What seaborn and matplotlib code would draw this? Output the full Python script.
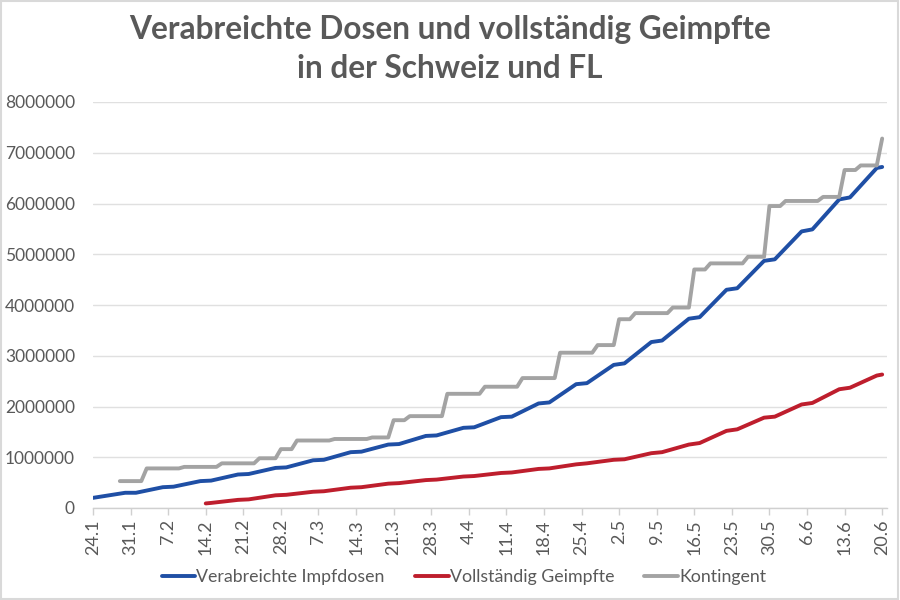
import pandas as pd
import numpy as np
import matplotlib
matplotlib.use("Agg")
import matplotlib.pyplot as plt
import seaborn as sns

# ---------------- data (values in millions) ----------------
dosen_dates = ["2021-01-24",
               "2021-01-30", "2021-02-01", "2021-02-06", "2021-02-08",
               "2021-02-13", "2021-02-15", "2021-02-20", "2021-02-22",
               "2021-02-27", "2021-03-01", "2021-03-06", "2021-03-08",
               "2021-03-13", "2021-03-15", "2021-03-20", "2021-03-22",
               "2021-03-27", "2021-03-29", "2021-04-03", "2021-04-05",
               "2021-04-10", "2021-04-12", "2021-04-17", "2021-04-19",
               "2021-04-24", "2021-04-26", "2021-05-01", "2021-05-03",
               "2021-05-08", "2021-05-10", "2021-05-15", "2021-05-17",
               "2021-05-22", "2021-05-24", "2021-05-29", "2021-05-31",
               "2021-06-05", "2021-06-07", "2021-06-12", "2021-06-14",
               "2021-06-19", "2021-06-20"]
dosen_mio = [0.20,
             0.30, 0.30, 0.41, 0.42,
             0.53, 0.54, 0.66, 0.67,
             0.79, 0.80, 0.94, 0.95,
             1.10, 1.11, 1.25, 1.26,
             1.42, 1.43, 1.58, 1.59,
             1.79, 1.80, 2.06, 2.08,
             2.44, 2.46, 2.82, 2.85,
             3.27, 3.30, 3.73, 3.76,
             4.30, 4.33, 4.87, 4.90,
             5.45, 5.49, 6.08, 6.12,
             6.70, 6.72]

geimpft_dates = ["2021-02-14", "2021-02-15",
                 "2021-02-20", "2021-02-22", "2021-02-27", "2021-03-01",
                 "2021-03-06", "2021-03-08", "2021-03-13", "2021-03-15",
                 "2021-03-20", "2021-03-22", "2021-03-27", "2021-03-29",
                 "2021-04-03", "2021-04-05", "2021-04-10", "2021-04-12",
                 "2021-04-17", "2021-04-19", "2021-04-24", "2021-04-26",
                 "2021-05-01", "2021-05-03", "2021-05-08", "2021-05-10",
                 "2021-05-15", "2021-05-17", "2021-05-22", "2021-05-24",
                 "2021-05-29", "2021-05-31", "2021-06-05", "2021-06-07",
                 "2021-06-12", "2021-06-14", "2021-06-19", "2021-06-20"]
geimpft_mio = [0.09, 0.10,
               0.16, 0.17, 0.25, 0.26,
               0.32, 0.33, 0.40, 0.41,
               0.48, 0.49, 0.55, 0.56,
               0.62, 0.63, 0.69, 0.70,
               0.77, 0.78, 0.86, 0.88,
               0.95, 0.96, 1.08, 1.10,
               1.25, 1.28, 1.52, 1.55,
               1.78, 1.80, 2.04, 2.07,
               2.34, 2.37, 2.61, 2.63]

# Kontingent: dates on which the level changes, and the new level
kontingent_change_dates = ["2021-01-29", "2021-02-03", "2021-02-10", "2021-02-17",
                           "2021-02-24", "2021-02-28", "2021-03-03", "2021-03-10",
                           "2021-03-17", "2021-03-21", "2021-03-24", "2021-03-31",
                           "2021-04-07", "2021-04-14", "2021-04-21", "2021-04-28",
                           "2021-05-02", "2021-05-05", "2021-05-12", "2021-05-16",
                           "2021-05-19", "2021-05-26", "2021-05-30", "2021-06-02",
                           "2021-06-09", "2021-06-13", "2021-06-16", "2021-06-20"]
kontingent_mio = [0.53, 0.78, 0.81, 0.88,
                  0.98, 1.16, 1.33, 1.36,
                  1.39, 1.73, 1.81, 2.25,
                  2.39, 2.56, 3.06, 3.21,
                  3.72, 3.84, 3.95, 4.70,
                  4.82, 4.95, 5.95, 6.05,
                  6.13, 6.66, 6.75, 7.28]

tick_labels = ["24.1", "31.1", "7.2", "14.2", "21.2", "28.2", "7.3", "14.3",
               "21.3", "28.3", "4.4", "11.4", "18.4", "25.4", "2.5", "9.5",
               "16.5", "23.5", "30.5", "6.6", "13.6", "20.6"]
y_ticks = [0, 1000000, 2000000, 3000000, 4000000, 5000000, 6000000, 7000000, 8000000]

series_names = ["Verabreichte Impfdosen", "Vollständig Geimpfte", "Kontingent"]
colors = ["#1F4FA5", "#BE1E2D", "#A3A3A3"]

# ---------------- build frames ----------------
df_dosen = pd.DataFrame({"Datum": pd.to_datetime(dosen_dates),
                         "Wert": np.array(dosen_mio) * 1e6})
df_geimpft = pd.DataFrame({"Datum": pd.to_datetime(geimpft_dates),
                           "Wert": np.array(geimpft_mio) * 1e6})
k = pd.Series(np.array(kontingent_mio) * 1e6, index=pd.to_datetime(kontingent_change_dates))
k_daily = k.reindex(pd.date_range(k.index[0], k.index[-1], freq="D")).ffill()
df_kont = pd.DataFrame({"Datum": k_daily.index, "Wert": k_daily.values})

# ---------------- plot ----------------
sns.set_theme(style="white")
plt.rcParams["font.family"] = ["Lato", "DejaVu Sans"]

fig = plt.figure(figsize=(9, 6), dpi=100)
ax = fig.add_axes([93 / 900, 1 - 508 / 600, (887 - 93) / 900, (508 - 102) / 600])

lw = 2.8
sns.lineplot(data=df_dosen, x="Datum", y="Wert", ax=ax, color=colors[0], lw=lw,
             label=series_names[0])
sns.lineplot(data=df_geimpft, x="Datum", y="Wert", ax=ax, color=colors[1], lw=lw,
             label=series_names[1])
sns.lineplot(data=df_kont, x="Datum", y="Wert", ax=ax, color=colors[2], lw=lw,
             label=series_names[2])

start = pd.Timestamp("2021-01-24")
tick_pos = [start + pd.Timedelta(days=7 * i) for i in range(len(tick_labels))]
ax.set_xlim(start, pd.Timestamp("2021-06-20") + pd.Timedelta(days=0.9))
ax.set_xticks(tick_pos)
ax.set_xticklabels(tick_labels, rotation=90, fontsize=13, color="#595959")
ax.set_ylim(0, 8000000)
ax.set_yticks(y_ticks)
ax.set_yticklabels([str(v) for v in y_ticks], fontsize=12.5, color="#595959")
ax.set_xlabel("")
ax.set_ylabel("")

ax.grid(axis="y", color="#E0E0E0", lw=1)
ax.grid(axis="x", visible=False)
for s in ["top", "right", "left"]:
    ax.spines[s].set_visible(False)
ax.spines["bottom"].set_color("#D0D0D0")
ax.spines["bottom"].set_linewidth(1)
ax.tick_params(axis="x", which="major", length=5, width=1, color="#D0D0D0",
               bottom=True, pad=3, direction="out")
ax.tick_params(axis="y", length=0, pad=13)

ax.legend(loc="center", bbox_to_anchor=(0.467, (577 - 508) / -406), ncol=3,
          frameon=False, fontsize=12.8, handlelength=1.9, handletextpad=0.05,
          columnspacing=1.7, labelcolor="#595959")

fig.text(0.5, 1 - 30 / 600, "Verabreichte Dosen und vollständig Geimpfte",
         ha="center", va="center", fontsize=22.8, fontweight="bold", color="#595959")
fig.text(0.5, 1 - 68 / 600, "in der Schweiz und FL",
         ha="center", va="center", fontsize=22.8, fontweight="bold", color="#595959")

# thin frame around the chart
fig.patches.append(plt.Rectangle((0.001, 0.001), 0.997, 0.997, transform=fig.transFigure,
                                 fill=False, edgecolor="#D9D9D9", lw=1.5))

fig.savefig("out.png", dpi=100, facecolor="white")
